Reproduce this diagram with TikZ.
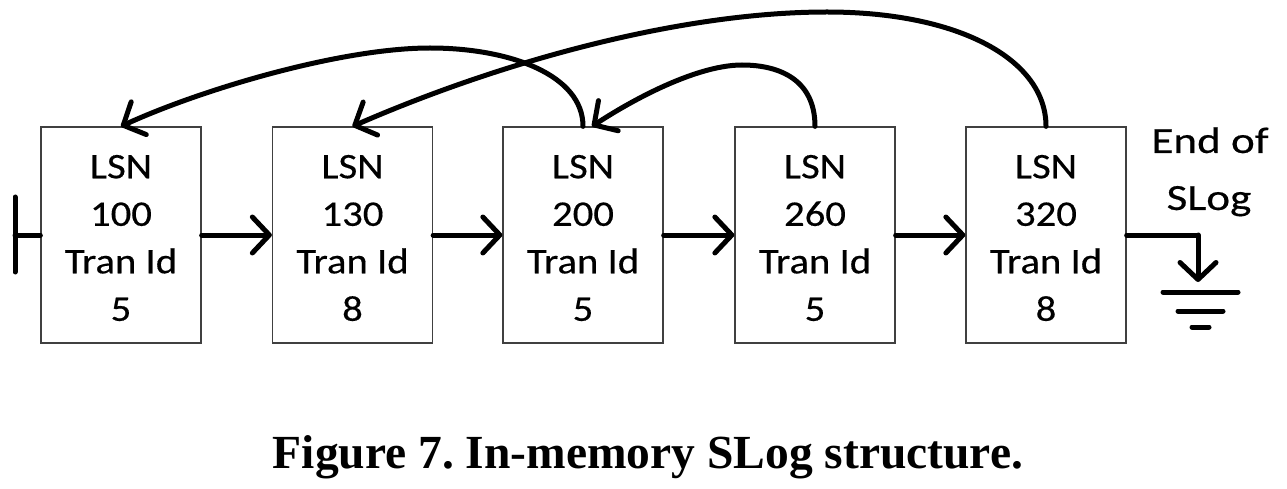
\documentclass[tikz,border=0pt]{standalone}
\usepackage{fontspec}
\setmainfont{Carlito}
\newfontfamily\boxfont[FakeStretch=1.13,FakeBold=0.4]{Carlito}
\newfontfamily\endfont[FakeStretch=1.22,FakeBold=0.4]{Carlito}
\newfontfamily\capfont{Liberation Serif}
\usetikzlibrary{arrows.meta}
\frenchspacing
\begin{document}
\begin{tikzpicture}[x=1pt,y=-1pt,
  recbox/.style={draw=black!75,line width=1.3pt,minimum width=160pt,minimum height=216pt,
    inner sep=0pt},
  boxtxt/.style={inner sep=0pt,align=center,font=\boxfont\fontsize{36}{47.5}\selectfont},
  endtxt/.style={inner sep=0pt,anchor=base,font=\endfont\fontsize{37}{57}\selectfont},
  conn/.style={line width=5pt,line cap=round,line join=round},
  arr/.style={conn,-{Straight Barb[round,length=17pt,width=36pt]}}]
\useasboundingbox (0,0) rectangle (1287,489);
\node[recbox] (b1) at (121,235) {};
\node[recbox] (b2) at (352.5,235) {};
\node[recbox] (b3) at (583,235) {};
\node[recbox] (b4) at (815,235) {};
\node[recbox] (b5) at (1046,235) {};
\node[boxtxt] (t1) at ([yshift=-3pt]b1.center) {LSN\\100\\Tran Id\\5};
\node[boxtxt] (t2) at ([yshift=-3pt]b2.center) {LSN\\130\\Tran Id\\8};
\node[boxtxt] (t3) at ([yshift=-3pt]b3.center) {LSN\\200\\Tran Id\\5};
\node[boxtxt] (t4) at ([yshift=-3pt]b4.center) {LSN\\260\\Tran Id\\5};
\node[boxtxt] (t5) at ([yshift=-3pt]b5.center) {LSN\\320\\Tran Id\\8};
% start stub
\coordinate (st) at (15,235);
\coordinate (sa) at (15,197);
\coordinate (sb) at (15,272);
\draw[conn] (sa) -- (sb);
\draw[conn] (st) -- (b1.west);
% forward arrows
\draw[arr] (b1.east) -- (b2.west);
\draw[arr] (b2.east) -- (b3.west);
\draw[arr] (b3.east) -- (b4.west);
\draw[arr] (b4.east) -- (b5.west);
% end of slog
\node[endtxt] (eos1) at (1210,153) {End of};
\node[endtxt] (eos2) at (1209,210) {SLog};
\coordinate (gc) at (1198,235);
\coordinate (gt) at (1198,282);
\draw[conn] (b5.east) -- (gc);
\draw[arr] (gc) -- (gt);
\draw[conn] (1163,292) -- (1238,292);
\draw[conn] (1178,311) -- (1223,311);
\draw[conn] (1192,327) -- (1209,327);
% back arrows
\coordinate (pA) at (430,48);
\coordinate (pB) at (827,12);
\coordinate (pC) at (742,65);
\draw[arr] (b3.north) .. controls (583,75) and (510,48) .. (pA)
  .. controls (340,48) and (200,90) .. (b1.north);
\draw[arr] (b5.north) .. controls (1046,60) and (960,12) .. (pB)
  .. controls (680,12) and (500,62) .. (b2.north);
\draw[arr] (b4.north) .. controls (815,80) and (780,65) .. (pC)
  .. controls (700,65) and (640,95) .. ([xshift=9pt]b3.north);
% caption
\node[font=\capfont\bfseries\fontsize{47.5}{50}\selectfont,anchor=base,inner sep=0pt] (cap) at (648,468) {Figure 7. In-memory SLog structure.};
\end{tikzpicture}
\end{document}
